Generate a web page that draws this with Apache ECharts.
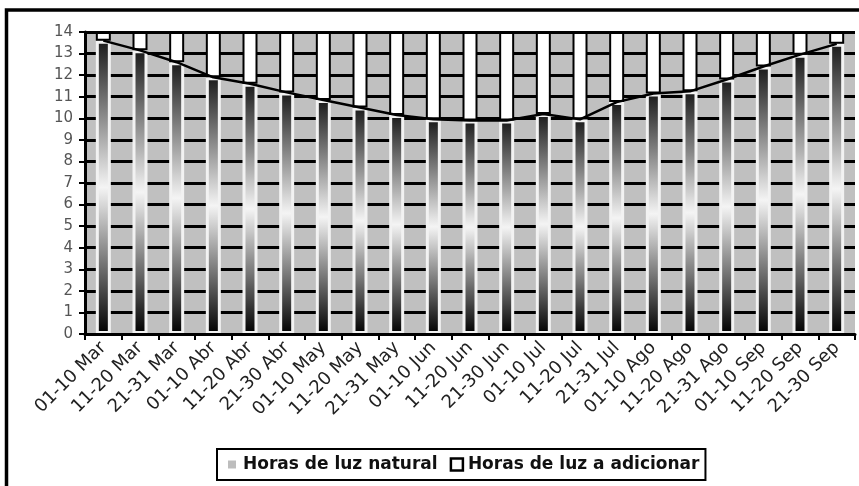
<!DOCTYPE html>
<html>
<head>
<meta charset="utf-8">
<script src="https://cdn.jsdelivr.net/npm/echarts@6/dist/echarts.min.js"></script>
<style>
  html, body { margin: 0; padding: 0; background: #fff; }
  #chart { width: 859px; height: 486px; }
</style>
</head>
<body>
<div id="chart"></div>
<script>
// periodos de 10 dias
var categories = [
  "01-10 Mar", "11-20 Mar", "21-31 Mar", "01-10 Abr", "11-20 Abr", "21-30 Abr",
  "01-10 May", "11-20 May", "21-31 May", "01-10 Jun", "11-20 Jun", "21-30 Jun",
  "01-10 Jul", "11-20 Jul", "21-31 Jul", "01-10 Ago", "11-20 Ago", "21-31 Ago",
  "01-10 Sep", "11-20 Sep", "21-30 Sep"
];
// horas de luz natural
var natural = [13.6, 13.15, 12.6, 11.9, 11.6, 11.2, 10.85, 10.5, 10.15, 9.95, 9.9,
  9.9, 10.2, 9.95, 10.75, 11.15, 11.25, 11.8, 12.4, 12.95, 13.45];
// horas de luz a adicionar
var adicional = [0.4, 0.85, 1.4, 2.1, 2.4, 2.8, 3.15, 3.5, 3.85, 4.05, 4.1,
  4.1, 3.8, 4.05, 3.25, 2.85, 2.75, 2.2, 1.6, 1.05, 0.55];

var chart = echarts.init(document.getElementById("chart"));

chart.setOption({
  animation: false,
  backgroundColor: "#fff",
  graphic: [
    {
      type: "rect",
      shape: { x: 6.5, y: 10, width: 1000, height: 1000 },
      style: { fill: "none", stroke: "#000", lineWidth: 3.5 },
      silent: true
    }
  ],
  grid: {
    left: 85,
    right: 4,
    top: 32,
    bottom: 152,
    show: true,
    backgroundColor: "#c0c0c0",
    borderWidth: 0
  },
  legend: {
    left: 217,
    top: 449,
    orient: "horizontal",
    itemWidth: 12,
    itemHeight: 12,
    itemGap: 12,
    padding: [7, 6, 7, 7],
    borderColor: "#000",
    borderWidth: 2,
    backgroundColor: "#fff",
    textStyle: {
      fontFamily: "DejaVu Sans",
      fontWeight: "bold",
      fontSize: 17,
      color: "#111"
    },
    data: [
      {
        name: "Horas de luz natural",
        icon: "rect",
        itemStyle: { color: "#bdbdbd", borderColor: "#fff", borderWidth: 4 }
      },
      {
        name: "Horas de luz a adicionar",
        icon: "rect",
        itemStyle: { color: "#fff", borderColor: "#000", borderWidth: 2.5 }
      }
    ]
  },
  xAxis: {
    type: "category",
    data: categories,
    z: 3,
    axisLine: { lineStyle: { color: "#000", width: 3 } },
    axisTick: { show: true, length: 6, lineStyle: { color: "#000", width: 2 } },
    axisLabel: {
      interval: 0,
      rotate: 45,
      margin: 11,
      fontFamily: "DejaVu Sans",
      fontSize: 18,
      color: "#222"
    },
    splitLine: { show: false }
  },
  yAxis: {
    type: "value",
    min: 0,
    max: 14,
    interval: 1,
    axisLine: { show: true, lineStyle: { color: "#000", width: 3 } },
    axisTick: { show: true, length: 6, lineStyle: { color: "#000", width: 2 } },
    axisLabel: {
      margin: 12,
      fontFamily: "DejaVu Sans",
      fontSize: 15,
      color: "#555"
    },
    splitLine: { show: true, lineStyle: { color: "#000", width: 3 } }
  },
  series: [
    {
      name: "Horas de luz natural",
      type: "bar",
      stack: "total",
      barWidth: 15,
      itemStyle: {
        color: new echarts.graphic.LinearGradient(0, 0, 0, 1, [
          { offset: 0, color: "#1a1a1a" },
          { offset: 0.5, color: "#f4f4f4" },
          { offset: 1, color: "#000" }
        ]),
        borderColor: "#f2f2f2",
        borderWidth: 3
      },
      data: natural
    },
    {
      name: "Horas de luz a adicionar",
      type: "bar",
      stack: "total",
      barWidth: 15,
      itemStyle: {
        color: "#fff",
        borderColor: "#000",
        borderWidth: 2
      },
      data: adicional
    },
    {
      name: "curva",
      type: "line",
      z: 5,
      symbol: "none",
      lineStyle: { color: "#000", width: 2.5 },
      data: natural
    }
  ]
});
</script>
</body>
</html>
